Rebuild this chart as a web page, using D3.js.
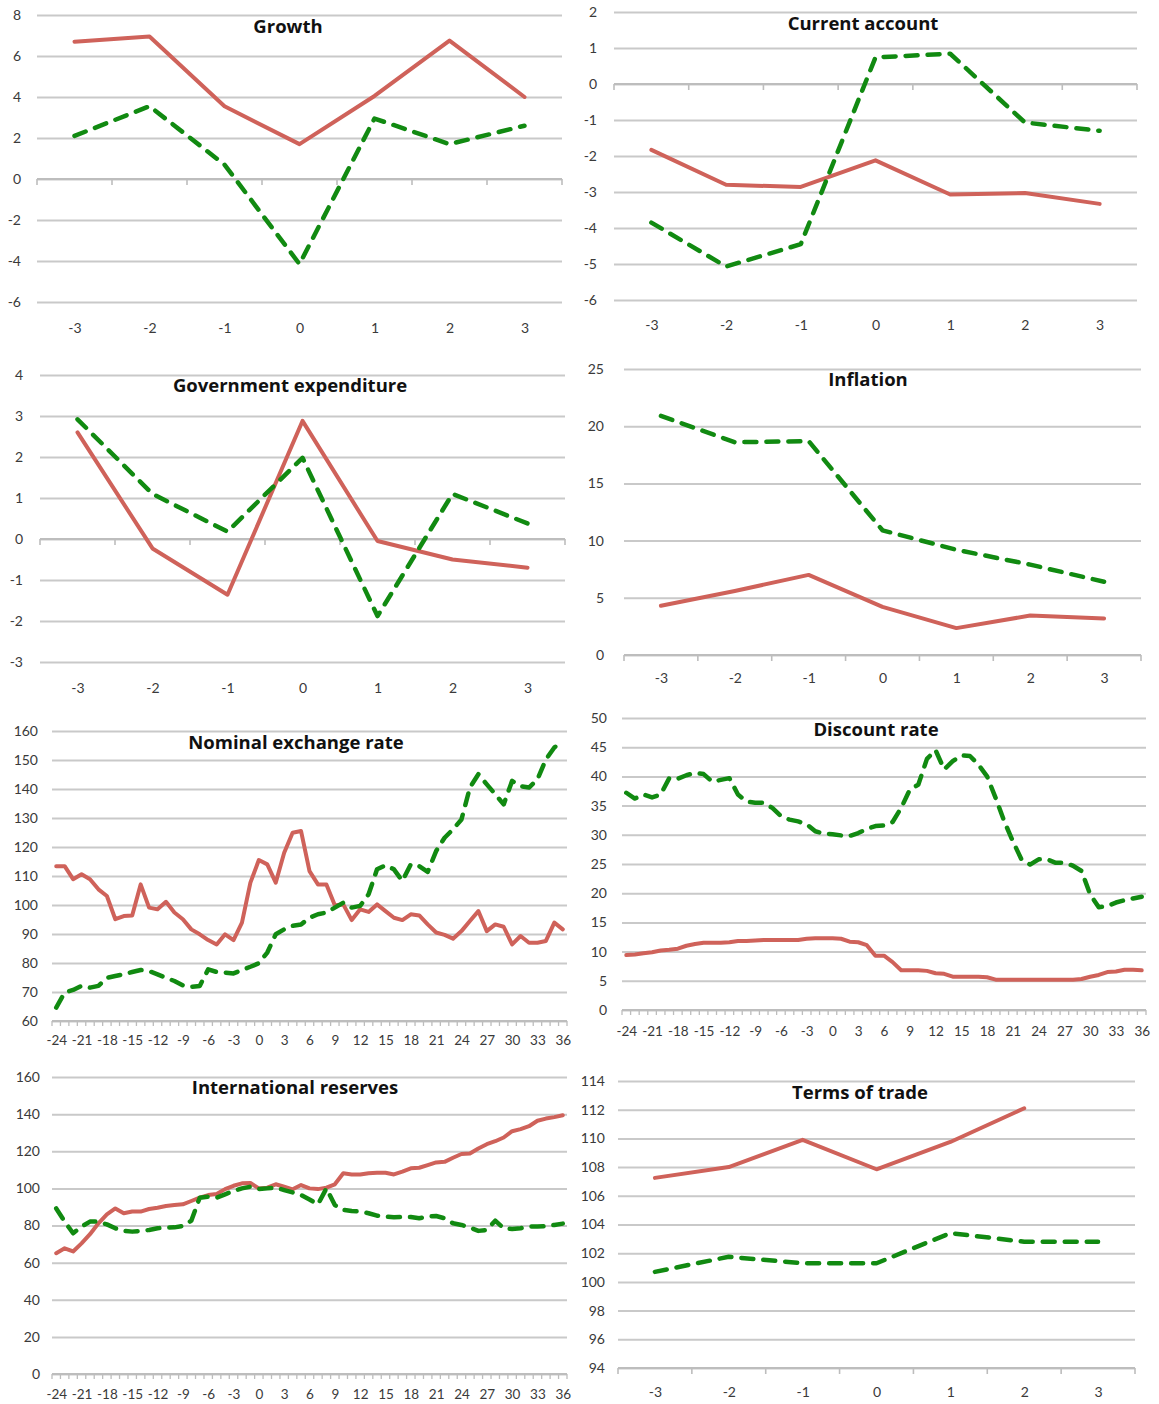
<!DOCTYPE html>
<html>
<head>
<meta charset="utf-8">
<script src="https://cdn.jsdelivr.net/npm/d3@7"></script>
<style>
  body { margin: 0; background: #fff; }
  svg { display: block; }
</style>
</head>
<body>
<svg id="chart" width="1159" height="1404"></svg>
<script>
// ---- categories ----
const years = ["-3", "-2", "-1", "0", "1", "2", "3"];
const months = [-24, -23, -22, -21, -20, -19, -18, -17, -16, -15, -14, -13, -12, -11, -10, -9, -8, -7, -6, -5,
  -4, -3, -2, -1, 0, 1, 2, 3, 4, 5, 6, 7, 8, 9, 10, 11, 12, 13, 14, 15, 16, 17, 18, 19, 20, 21, 22, 23, 24, 25,
  26, 27, 28, 29, 30, 31, 32, 33, 34, 35, 36];
const monthTickLabels = [-24, -21, -18, -15, -12, -9, -6, -3, 0, 3, 6, 9, 12, 15, 18, 21, 24, 27, 30, 33, 36];

// ---- y tick labels ----
const growthTicks = [8, 6, 4, 2, 0, -2, -4, -6];
const currentAccountTicks = [2, 1, 0, -1, -2, -3, -4, -5, -6];
const govExpTicks = [4, 3, 2, 1, 0, -1, -2, -3];
const inflationTicks = [25, 20, 15, 10, 5, 0];
const nerTicks = [160, 150, 140, 130, 120, 110, 100, 90, 80, 70, 60];
const discountTicks = [50, 45, 40, 35, 30, 25, 20, 15, 10, 5, 0];
const reservesTicks = [160, 140, 120, 100, 80, 60, 40, 20, 0];
const totTicks = [114, 112, 110, 108, 106, 104, 102, 100, 98, 96, 94];

// ---- annual series (solid red / dashed green) ----
const growthSolid = [6.7, 6.95, 3.55, 1.7, 4.05, 6.75, 4.0];
const growthDashed = [2.1, 3.55, 0.7, -4.15, 2.95, 1.7, 2.6];

const currentAccountSolid = [-1.83, -2.8, -2.86, -2.12, -3.07, -3.03, -3.33];
const currentAccountDashed = [-3.85, -5.07, -4.45, 0.74, 0.84, -1.07, -1.3];

const govExpSolid = [2.6, -0.23, -1.36, 2.88, -0.05, -0.5, -0.7];
const govExpDashed = [2.92, 1.1, 0.18, 1.98, -1.88, 1.1, 0.38];

const inflationSolid = [4.3, 5.6, 7.0, 4.2, 2.35, 3.45, 3.2];
const inflationDashed = [20.9, 18.6, 18.7, 10.9, 9.2, 7.9, 6.4];

const totSolid = [107.25, 108.0, 109.9, 107.85, 109.75, 112.1, null];
const totDashed = [100.7, 101.75, 101.3, 101.3, 103.4, 102.8, 102.8];

// ---- monthly series ----
const nerSolid = [113.4, 113.4, 108.9, 110.6, 108.9, 105.4, 103.1, 95.1, 96.2, 96.4,
  107.1, 99.1, 98.5, 101.1, 97.4, 95.1, 91.6, 89.9, 87.9, 86.4,
  89.9, 87.9, 93.9, 107.7, 115.5, 114.0, 107.7, 118.0, 124.9, 125.5,
  111.7, 107.1, 107.1, 99.9, 100.2, 94.8, 98.5, 97.6, 100.2, 97.9,
  95.6, 94.8, 96.8, 96.4, 93.3, 90.5, 89.7, 88.4, 91.0, 94.5,
  97.9, 91.0, 93.3, 92.5, 86.4, 89.3, 87.0, 87.0, 87.6, 93.9,
  91.6];
const nerDashed = [64.6, 69.8, 70.7, 72.1, 71.5, 72.1, 74.9, 75.5, 76.1, 76.9,
  77.6, 77.2, 76.1, 74.9, 73.8, 72.3, 71.8, 72.1, 77.8, 76.9,
  76.7, 76.4, 77.6, 78.7, 79.9, 83.6, 89.9, 91.6, 92.8, 93.3,
  95.6, 96.8, 97.4, 99.1, 100.8, 99.1, 99.7, 103.7, 112.3, 113.7,
  112.3, 108.3, 114.0, 113.4, 111.4, 118.6, 123.2, 126.1, 129.5, 140.5,
  145.1, 141.6, 138.2, 134.7, 142.8, 141.0, 140.5, 143.3, 150.2, 154.3,
  156.6];

const discountSolid = [9.4, 9.5, 9.7, 9.9, 10.2, 10.3, 10.5, 11.0, 11.3, 11.5,
  11.5, 11.5, 11.6, 11.8, 11.8, 11.9, 12.0, 12.0, 12.0, 12.0,
  12.0, 12.2, 12.3, 12.3, 12.3, 12.2, 11.7, 11.6, 11.1, 9.3,
  9.3, 8.2, 6.8, 6.8, 6.8, 6.7, 6.3, 6.2, 5.7, 5.7,
  5.7, 5.7, 5.6, 5.2, 5.2, 5.2, 5.2, 5.2, 5.2, 5.2,
  5.2, 5.2, 5.2, 5.3, 5.7, 6.0, 6.5, 6.6, 6.9, 6.9,
  6.8];
const discountDashed = [37.2, 36.2, 36.9, 36.4, 36.9, 39.7, 39.6, 40.2, 40.6, 40.4,
  39.1, 39.4, 39.7, 36.9, 35.7, 35.5, 35.5, 34.6, 33.2, 32.6,
  32.3, 31.8, 30.6, 30.2, 30.1, 29.9, 29.8, 30.3, 31.0, 31.5,
  31.6, 32.2, 34.6, 37.7, 38.6, 43.0, 44.5, 41.2, 42.6, 43.6,
  43.5, 42.0, 40.0, 36.3, 32.3, 28.9, 25.8, 24.9, 25.8, 25.8,
  25.2, 25.2, 24.7, 23.8, 19.8, 17.6, 17.8, 18.4, 18.8, 19.1,
  19.4];

const reservesSolid = [65.1, 67.7, 66.0, 70.4, 75.3, 81.2, 86.0, 89.2, 86.6, 87.5,
  87.5, 88.9, 89.6, 90.5, 91.0, 91.4, 93.2, 95.0, 96.4, 97.0,
  99.6, 101.4, 102.7, 102.9, 100.0, 100.4, 102.2, 100.9, 99.5, 101.8,
  100.0, 99.6, 100.4, 102.2, 108.1, 107.5, 107.5, 108.2, 108.4, 108.4,
  107.5, 109.0, 110.8, 111.1, 112.5, 114.0, 114.3, 116.5, 118.5, 118.8,
  121.5, 123.8, 125.4, 127.4, 130.8, 131.9, 133.5, 136.4, 137.6, 138.4,
  139.4];
const reservesDashed = [89.2, 82.1, 75.8, 79.4, 82.1, 82.1, 80.6, 78.5, 77.1, 76.7,
  77.1, 77.6, 78.5, 78.9, 79.0, 79.7, 82.6, 95.0, 95.5, 95.0,
  96.8, 98.6, 100.0, 100.9, 99.6, 100.0, 100.4, 99.1, 97.8, 96.4,
  94.0, 91.4, 100.0, 91.0, 88.4, 87.8, 87.5, 86.6, 85.3, 84.8,
  84.4, 84.6, 84.6, 83.9, 84.8, 85.1, 83.9, 81.2, 80.3, 78.9,
  77.1, 77.6, 82.6, 78.5, 78.1, 78.5, 79.4, 79.4, 79.6, 80.3,
  81.0];

// ---- styling ----
const RED = "#cf625a";
const GREEN = "#118a11";
const GRID = "#c9c9c9";
const LABEL_FONT = "Lato, 'Open Sans', sans-serif";
const TITLE_FONT = "'Open Sans', Lato, sans-serif";

const panels = [
  { title: "Growth", titleX: 288, titleY: 25, cats: years, xLabels: years,
    left: 37, right: 562, top: 15, bottom: 302, domain: [-6, 8], ticks: growthTicks, base: 0,
    labelY: 328, yPad: 16, solid: growthSolid, dashed: growthDashed },
  { title: "Current account", titleX: 863, titleY: 22, cats: years, xLabels: years,
    left: 614, right: 1137, top: 12, bottom: 300, domain: [-6, 2], ticks: currentAccountTicks, base: 0,
    labelY: 325, yPad: 17, solid: currentAccountSolid, dashed: currentAccountDashed },
  { title: "Government expenditure", titleX: 290, titleY: 384, cats: years, xLabels: years,
    left: 40, right: 565, top: 375, bottom: 662, domain: [-3, 4], ticks: govExpTicks, base: 0,
    labelY: 688, yPad: 17, solid: govExpSolid, dashed: govExpDashed },
  { title: "Inflation", titleX: 868, titleY: 378, cats: years, xLabels: years,
    left: 624, right: 1141, top: 369, bottom: 655, domain: [0, 25], ticks: inflationTicks, base: 0,
    labelY: 678, yPad: 20, solid: inflationSolid, dashed: inflationDashed },
  { title: "Nominal exchange rate", titleX: 296, titleY: 741, cats: months, xLabels: monthTickLabels,
    left: 52, right: 567, top: 731, bottom: 1021, domain: [60, 160], ticks: nerTicks, base: 60,
    labelY: 1040, yPad: 14, solid: nerSolid, dashed: nerDashed },
  { title: "Discount rate", titleX: 876, titleY: 728, cats: months, xLabels: monthTickLabels,
    left: 622, right: 1146, top: 718, bottom: 1010, domain: [0, 50], ticks: discountTicks, base: 0,
    labelY: 1031, yPad: 15, solid: discountSolid, dashed: discountDashed },
  { title: "International reserves", titleX: 295, titleY: 1086, cats: months, xLabels: monthTickLabels,
    left: 52, right: 567, top: 1077, bottom: 1374, domain: [0, 160], ticks: reservesTicks, base: 0,
    labelY: 1394, yPad: 12, solid: reservesSolid, dashed: reservesDashed },
  { title: "Terms of trade", titleX: 860, titleY: 1091, cats: years, xLabels: years,
    left: 618, right: 1135, top: 1081, bottom: 1368, domain: [94, 114], ticks: totTicks, base: 94,
    labelY: 1392, yPad: 13, solid: totSolid, dashed: totDashed }
];

const svg = d3.select("#chart");
// plain hyphen for negative numbers
const plainNumber = d => String(d);

function drawPanel(p) {
  const g = svg.append("g").attr("class", "panel");
  const x = d3.scalePoint().domain(p.cats).range([p.left, p.right]).padding(0.5);
  const y = d3.scaleLinear().domain(p.domain).range([p.bottom, p.top]);
  const step = x.step();
  const monthly = p.cats.length > 10;

  // gridlines and value labels
  g.append("g")
    .attr("transform", `translate(${p.left},0)`)
    .call(d3.axisLeft(y).tickValues(p.ticks).tickSize(-(p.right - p.left)).tickPadding(p.yPad)
      .tickFormat(plainNumber))
    .call(a => a.select(".domain").remove())
    .call(a => a.selectAll("line").attr("stroke", GRID).attr("stroke-width", 2))
    .call(a => a.selectAll("text")
      .attr("fill", "#3a3a3a")
      .style("font-family", LABEL_FONT)
      .style("font-size", "14px"));

  // category axis line with boundary ticks
  const baseY = y(p.base);
  const bounds = p.cats.map(c => x(c) - step / 2).concat([x(p.cats[p.cats.length - 1]) + step / 2]);
  g.append("line")
    .attr("x1", p.left).attr("x2", p.right)
    .attr("y1", baseY).attr("y2", baseY)
    .attr("stroke", "#bdbdbd").attr("stroke-width", 2);
  g.append("g").selectAll("line").data(bounds).join("line")
    .attr("x1", d => d).attr("x2", d => d)
    .attr("y1", baseY).attr("y2", baseY + (monthly ? 5 : 6))
    .attr("stroke", "#bdbdbd").attr("stroke-width", monthly ? 1.3 : 1.6);

  // category labels
  g.append("g")
    .attr("transform", `translate(0,${p.labelY})`)
    .call(d3.axisBottom(x).tickValues(p.xLabels).tickSize(0).tickPadding(0).tickFormat(plainNumber))
    .call(a => a.select(".domain").remove())
    .call(a => a.selectAll("text")
      .attr("dy", "0.35em")
      .attr("fill", "#3a3a3a")
      .style("font-family", LABEL_FONT)
      .style("font-size", monthly ? "13.5px" : "14px"));

  // series
  const line = d3.line()
    .defined(d => d != null)
    .x((d, i) => x(p.cats[i]))
    .y(d => y(d));

  g.append("path")
    .datum(p.solid)
    .attr("d", line)
    .attr("fill", "none")
    .attr("stroke", RED)
    .attr("stroke-width", 4)
    .attr("stroke-linejoin", "round")
    .attr("stroke-linecap", "round");

  g.append("path")
    .datum(p.dashed)
    .attr("d", line)
    .attr("fill", "none")
    .attr("stroke", GREEN)
    .attr("stroke-width", 4.5)
    .attr("stroke-dasharray", "12,10")
    .attr("stroke-linejoin", "round")
    .attr("stroke-linecap", "round");

  // title
  g.append("text")
    .attr("x", p.titleX).attr("y", p.titleY)
    .attr("text-anchor", "middle")
    .attr("dominant-baseline", "central")
    .attr("fill", "#111")
    .style("font-family", TITLE_FONT)
    .style("font-weight", "bold")
    .style("font-size", "18.5px")
    .text(p.title);
}

panels.forEach(drawPanel);
</script>
</body>
</html>
